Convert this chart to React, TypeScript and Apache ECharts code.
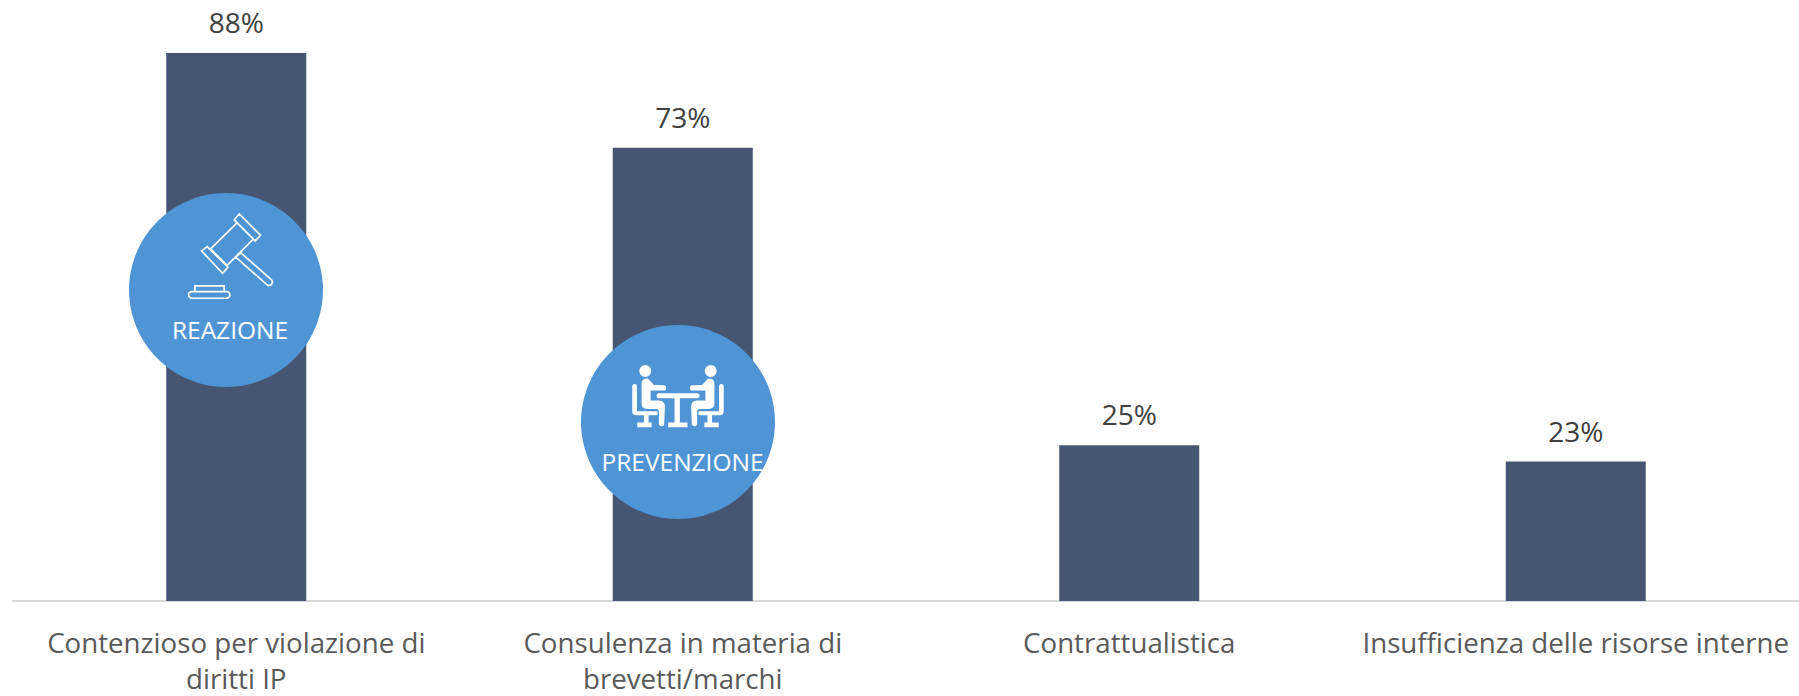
import React, { useEffect, useRef } from "react";
import * as echarts from "echarts";

const categories = [
  "Contenzioso per violazione di\ndiritti IP",
  "Consulenza in materia di\nbrevetti/marchi",
  "Contrattualistica",
  "Insufficienza delle risorse interne",
];
const values = [88, 72.8, 25, 22.4];
const labels = ["88%", "73%", "25%", "23%"];
const badgeReaction = "REAZIONE";
const badgePrevention = "PREVENZIONE";

const FONT = '"Open Sans", sans-serif';

const gavelD =
  "M373 120 L388 102 L452 166 L436 183 Z " +
  "M380 130 L302 207 L352 256 L430 178 " +
  "M275 213 L292 200 L354 262 L338 280 Z " +
  "M378 232 L392 218 L485 300 A10 10 0 0 1 472 315 Z " +
  "M255 335 L255 318 L343 318 L343 335 " +
  "M246 335 L350 335 A10 10 0 0 1 350 355 L246 355 A10 10 0 0 1 246 335 Z";

const personD =
  "M274 183 A18 18 0 1 1 238 183 A18 18 0 1 1 274 183 Z " +
  "M245 218 Q248 205 264 206 L282 225 L311 226 A8 8 0 0 1 311 242 L272 242 L272 272 L298 272 Q315 273 315 290 L313 341 A8 8 0 0 1 297 341 L297 306 Q297 297 288 297 L262 297 Q245 297 245 281 Z " +
  "M217 229 A7 7 0 0 1 231 229 L231 304 L288 304 A6 6 0 0 1 288 316 L266 316 L266 338 L275 338 L275 352 L232 352 L232 338 L252 338 L252 316 L228 316 Q217 316 217 305 Z";

const tableD =
  "M295 250 L414 250 A8 8 0 0 1 414 265 L360 265 L360 338 L383 338 L383 352 L325 352 L325 338 L344 338 L344 265 L295 265 A8 8 0 0 1 295 250 Z";

echarts.graphic.registerShape("gavel", echarts.graphic.extendPath(gavelD, {}) as any);
echarts.graphic.registerShape("person", echarts.graphic.extendPath(personD, {}) as any);
echarts.graphic.registerShape("meetingTable", echarts.graphic.extendPath(tableD, {}) as any);

export default function App() {
  const ref = useRef<HTMLDivElement>(null);
  useEffect(() => {
    document.body.style.margin = "0";
    const chart = echarts.init(ref.current!, undefined, { renderer: "svg" });
    chart.setOption({
      animation: false,
      backgroundColor: "#ffffff",
      grid: { left: 13, right: 0, top: 53, bottom: 95, containLabel: false, outerBoundsMode: "none" },
      xAxis: {
        type: "category",
        data: categories,
        axisLine: { lineStyle: { color: "#d9d9d9", width: 2 } },
        axisTick: { show: false },
        axisLabel: {
          interval: 0,
          color: "#595959",
          fontFamily: FONT,
          fontSize: 27.7,
          lineHeight: 36,
          margin: 23,
        },
      },
      yAxis: { type: "value", min: 0, max: 88, show: false, splitLine: { show: false } },
      series: [
        {
          type: "bar",
          data: values,
          barWidth: 140,
          itemStyle: { color: "#455572" },
          label: {
            show: true,
            position: "top",
            distance: 17,
            color: "#404040",
            fontFamily: FONT,
            fontSize: 28,
            formatter: (p: any) => labels[p.dataIndex],
          },
        },
      ],
      graphic: [
        { type: "circle", z: 100, shape: { cx: 226, cy: 290, r: 97 }, style: { fill: "#4f94d5" } },
        {
          type: "gavel", z: 101, x: 110, y: 180, scaleX: 1 / 3, scaleY: 1 / 3,
          style: { fill: "none", stroke: "#ffffff", lineWidth: 5 },
        },
        {
          type: "text", z: 101, x: 230, y: 329,
          style: { text: badgeReaction, fill: "#ffffff", font: `24.5px ${FONT}`, textAlign: "center", textVerticalAlign: "middle" },
        },
        { type: "circle", z: 100, shape: { cx: 678, cy: 422, r: 97 }, style: { fill: "#4f94d5" } },
        {
          type: "person", z: 101, x: 560, y: 310, scaleX: 1 / 3, scaleY: 1 / 3,
          style: { fill: "#ffffff" },
        },
        {
          type: "person", z: 101, x: 560 + 708 / 3, y: 310, scaleX: -1 / 3, scaleY: 1 / 3,
          style: { fill: "#ffffff" },
        },
        {
          type: "meetingTable", z: 101, x: 560, y: 310, scaleX: 1 / 3, scaleY: 1 / 3,
          style: { fill: "#ffffff" },
        },
        {
          type: "text", z: 101, x: 682.5, y: 461,
          style: { text: badgePrevention, fill: "#ffffff", font: `24.5px ${FONT}`, textAlign: "center", textVerticalAlign: "middle" },
        },
      ],
    });
    return () => chart.dispose();
  }, []);
  return <div ref={ref} style={{ width: 1799, height: 696 }} />;
}
